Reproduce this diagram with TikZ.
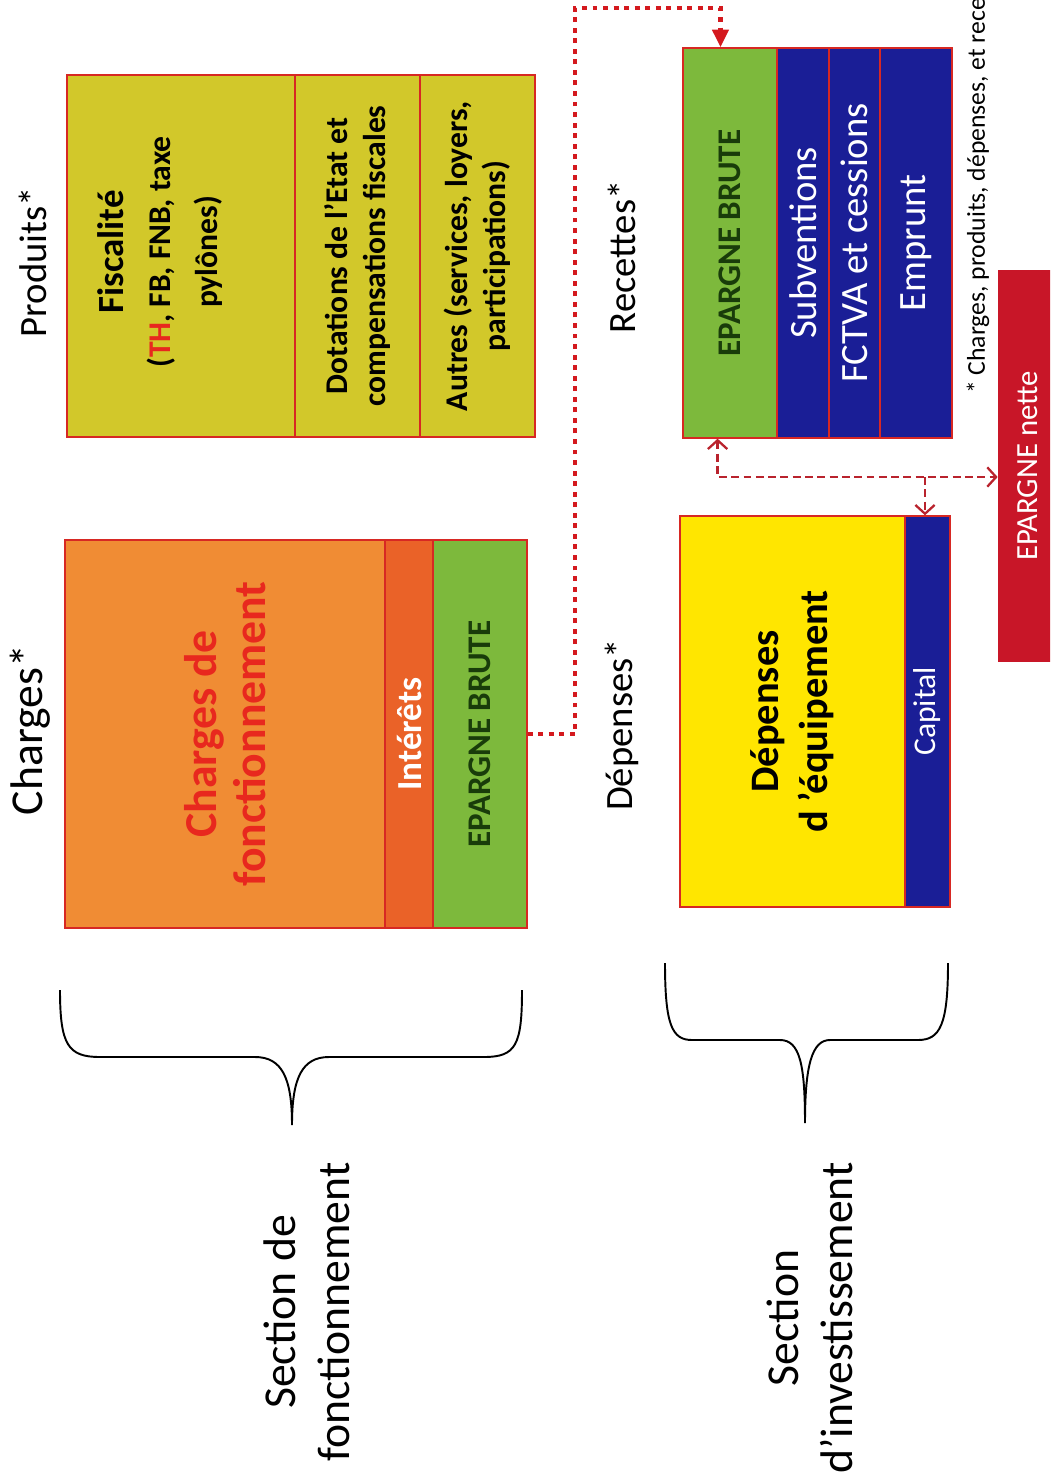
\documentclass[tikz,border=0pt]{standalone}
\usepackage{fontspec}
\setmainfont{Carlito}
\usepackage{xcolor}
\usepackage{tikz}
\usetikzlibrary{calc, arrows.meta, positioning}

\definecolor{cellred}{RGB}{215,40,35}
\definecolor{prodyellow}{RGB}{210,200,42}
\definecolor{chargeorange}{RGB}{240,140,52}
\definecolor{intorange}{RGB}{234,98,40}
\definecolor{epgreen}{RGB}{125,185,60}
\definecolor{recblue}{RGB}{26,30,150}
\definecolor{depyellow}{RGB}{255,230,0}
\definecolor{netred}{RGB}{200,22,40}
\definecolor{linkred}{RGB}{212,25,30}
\definecolor{dashred}{RGB}{185,35,45}
\definecolor{txtred}{RGB}{232,40,30}
\definecolor{txtgreen}{RGB}{25,60,10}

\begin{document}
\begin{tikzpicture}[
    x=0.2mm, y=-0.2mm,
    >={Straight Barb[length=5pt, width=11pt]},
    % cellules : noeuds tournes de 90 degres (width = hauteur sur la page)
    base_cell/.style={rectangle, rotate=90, draw=cellred, line width=0.8pt, inner sep=1pt, align=center},
    prod_cell/.style={base_cell, fill=prodyellow, minimum width=7.24cm, font=\fontsize{18}{21.5}\selectfont\bfseries},
    charge_cell/.style={base_cell, fill=chargeorange, minimum width=7.76cm, text=txtred, font=\fontsize{26}{28}\selectfont\bfseries},
    rec_cell/.style={base_cell, fill=recblue, minimum width=7.8cm, text=white, font=\fontsize{22}{25}\selectfont},
    dep_cell/.style={base_cell, minimum width=7.82cm},
    eb_font/.style={fill=epgreen, text=txtgreen, font=\fontsize{18.8}{22}\selectfont\bfseries},
    net_node/.style={rectangle, rotate=90, fill=netred, text=white, minimum width=7.84cm, minimum height=1.2cm, font=\fontsize{17.5}{20}\selectfont},
    % titres
    head_text/.style={rotate=90, font=\fontsize{22}{26}\selectfont},
    sect_text/.style={rotate=90, align=center, font=\fontsize{26}{31}\selectfont},
    note_text/.style={rotate=90, anchor=west, font=\fontsize{14.6}{17}\selectfont},
    % liaisons
    dot_link/.style={draw=linkred, line width=2.8pt, dash pattern=on 2.8pt off 3.2pt, -{Triangle[length=10pt, width=9pt]}},
    dash_link/.style={draw=dashred, line width=1.3pt, dash pattern=on 4.5pt off 2.5pt},
    brace_line/.style={draw=black, line width=1.1pt}
]
    \useasboundingbox (0,0) rectangle (1050,1484);
    \clip (0,0) rectangle (1050,1484);

    % ===================== PRODUITS =====================
    \node [head_text] (produits) at (33,262) {Produits*};
    \node [prod_cell, minimum height=4.56cm] (fisc) at (181,256) {};
    \node [rotate=90, align=center, font=\fontsize{18}{27}\selectfont\bfseries] (fisc_txt) at (160,252) {{\fontsize{21}{27}\selectfont Fiscalité}\\(\textcolor{txtred}{TH}, FB, FNB, taxe\\pylônes)};
    \node [prod_cell, minimum height=2.5cm] (dot) at (357.5,256) {Dotations de l’Etat et\\compensations fiscales};
    \node [prod_cell, minimum height=2.3cm] (aut) at (477.5,256) {Autres (services, loyers,\\participations)};

    % ===================== CHARGES =====================
    \node [head_text, font=\fontsize{26}{30}\selectfont] (charges) at (30,730) {Charges*};
    \node [charge_cell, minimum height=6.4cm] (chf) at (225,734) {Charges de\\fonctionnement};
    \node [charge_cell, fill=intorange, text=white, font=\fontsize{20}{24}\selectfont\bfseries, minimum height=0.96cm] (int) at (409,734) {Intérêts};
    \node [charge_cell, eb_font, minimum height=1.88cm] (ebC) at (480,734) {EPARGNE BRUTE};

    % ===================== RECETTES =====================
    \node [head_text] (recettes) at (622,257) {Recettes*};
    \node [rec_cell, eb_font, minimum height=1.88cm] (ebR) at (730,243) {EPARGNE BRUTE};
    \node [rec_cell, minimum height=1.04cm] (sub) at (803,243) {Subventions};
    \node [rec_cell, minimum height=1.02cm] (fct) at (854.5,243) {FCTVA et cessions};
    \node [rec_cell, minimum height=1.44cm] (emp) at (916,243) {Emprunt};

    % ===================== DEPENSES =====================
    \node [head_text] (depenses) at (622,725) {Dépenses*};
    \node [dep_cell, fill=depyellow, font=\fontsize{23}{28}\selectfont\bfseries, minimum height=4.5cm] (deq) at (792.5,711.5) {Dépenses\\d ’équipement};
    \node [dep_cell, fill=recblue, text=white, font=\fontsize{18}{22}\selectfont, minimum height=0.9cm] (cap) at (927.5,711.5) {Capital};

    \node [net_node] (nette) at (1028,466) {EPARGNE nette};
    \node [note_text] (note) at (978,400) {* Charges, produits, dépenses, et rece};

    % ===================== LIAISONS =====================
    % (noeuds tournes : .south = bord droit, .east = bord haut, .west = bord bas, .north = bord gauche)
    \coordinate (top_turn) at (575,8);
    \coordinate (ebR_in) at ($(ebR.north east)!0.4!(ebR.south east)$);
    \coordinate (ebR_out) at ($(ebR.north west)!0.37!(ebR.south west)$);
    \coordinate (split) at (925,477);

    \draw [dot_link] (ebC.south) -| (top_turn) -| (ebR_in);
    \draw [dash_link, <->] (ebR_out) |- (split) -- (split -| nette.north);
    \draw [dash_link, ->] (split) -- (split |- cap.east);

    % ===================== ACCOLADES =====================
    \draw [brace_line] (60,990) .. controls (60,1045) and (68,1057) .. (100,1057) -- (255,1057)
        .. controls (282,1057) and (292,1078) .. (292,1125)
        .. controls (292,1078) and (302,1057) .. (329,1057) -- (484,1057)
        .. controls (516,1057) and (522,1045) .. (522,990);
    \draw [brace_line] (665,963) .. controls (665,1025) and (672,1040) .. (692,1040) -- (780,1040)
        .. controls (800,1040) and (805,1065) .. (805,1123)
        .. controls (805,1065) and (812,1040) .. (830,1040) -- (918,1040)
        .. controls (940,1040) and (948,1025) .. (948,963);

    \node [sect_text] (sec_fonc) at (307,1312) {Section de\\fonctionnement};
    \node [sect_text] (sec_inv) at (810,1318) {Section\\d’investissement};
\end{tikzpicture}
\end{document}
